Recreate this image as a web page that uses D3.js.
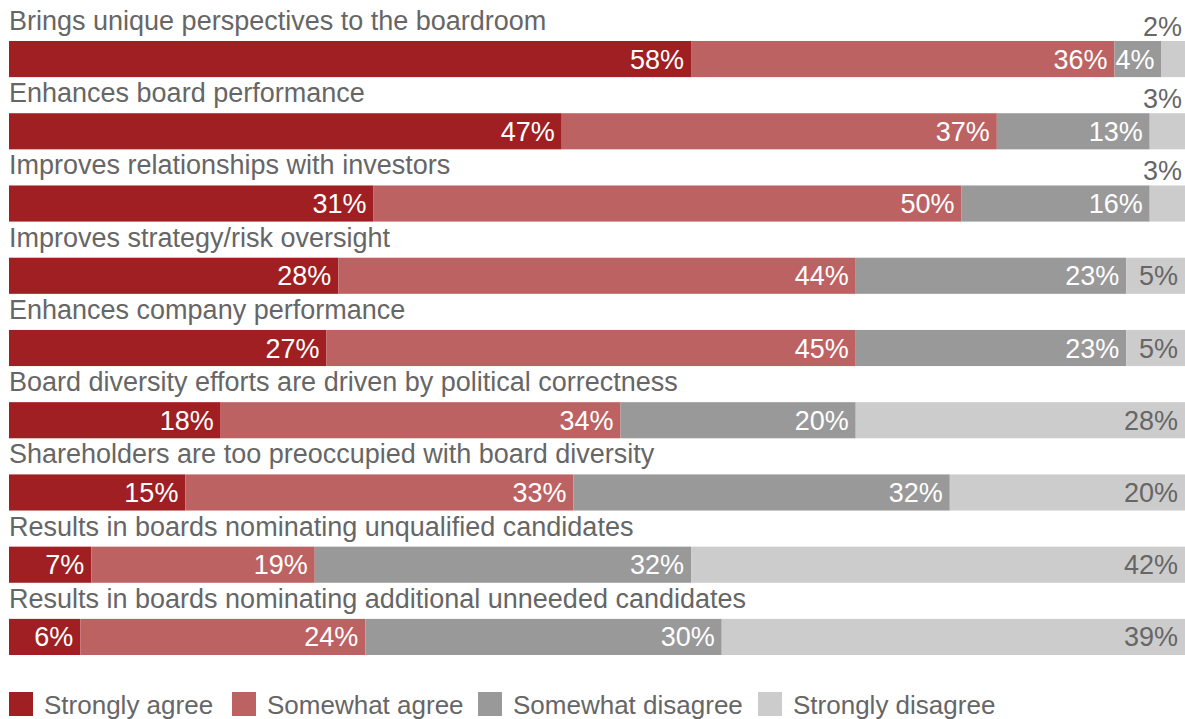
<!DOCTYPE html>
<html><head><meta charset="utf-8">
<script src="https://cdn.jsdelivr.net/npm/d3@7"></script>
<style>body{margin:0;background:#fff}svg{display:block}text{font-family:"Liberation Sans",Arial,sans-serif}</style>
</head><body>
<svg id="c" width="1185" height="719"></svg>
<script>
const categories = [
  "Brings unique perspectives to the boardroom",
  "Enhances board performance",
  "Improves relationships with investors",
  "Improves strategy/risk oversight",
  "Enhances company performance",
  "Board diversity efforts are driven by political correctness",
  "Shareholders are too preoccupied with board diversity",
  "Results in boards nominating unqualified candidates",
  "Results in boards nominating additional unneeded candidates"
];
const seriesNames = ["Strongly agree","Somewhat agree","Somewhat disagree","Strongly disagree"];
const stronglyAgree    = [58,47,31,28,27,18,15,7,6];
const somewhatAgree    = [36,37,50,44,45,34,33,19,24];
const somewhatDisagree = [4,13,16,23,23,20,32,32,30];
const stronglyDisagree = [2,3,3,5,5,28,20,42,39];
const colors = ["#a01f22","#bd6262","#999999","#cccccc"];
const labelColors = ["#ffffff","#ffffff","#ffffff","#666666"];

const rows = categories.map((c,i)=>({cat:c, vals:[stronglyAgree[i],somewhatAgree[i],somewhatDisagree[i],stronglyDisagree[i]]}));
const svg = d3.select("#c");
const y = d3.scaleBand().domain(categories).range([41,655]).paddingInner(0.5).paddingOuter(0);
const fs = 27, vfs = 27, lfs = 26;

const g = svg.selectAll("g.row").data(rows).join("g").attr("class","row");
g.append("text").attr("x",9).attr("y",d=>y(d.cat)-11).attr("fill","#666").attr("font-size",fs).text(d=>d.cat);

g.each(function(d){
  const sel = d3.select(this);
  const total = d3.sum(d.vals);
  const x = d3.scaleLinear().domain([0,total]).range([9,1185]);
  let cum = 0;
  const segs = d.vals.map((v,k)=>{const s={k,v,x0:cum,x1:cum+v};cum+=v;return s;});
  sel.selectAll("rect").data(segs).join("rect")
    .attr("x",s=>x(s.x0)).attr("y",y(d.cat)).attr("width",s=>x(s.x1)-x(s.x0)).attr("height",y.bandwidth())
    .attr("fill",s=>colors[s.k]);
  sel.selectAll("text.v").data(segs).join("text").attr("class","v")
    .attr("text-anchor","end").attr("font-size",vfs)
    .attr("x",s=> s.v<=3 ? x(total)-3 : x(s.x1)-7)
    .attr("y",s=> s.v<=3 ? y(d.cat)-5 : y(d.cat)+y.bandwidth()/2+9.5)
    .attr("fill",s=> s.v<=3 ? "#666" : labelColors[s.k])
    .text(s=>s.v+"%");
});

const leg = svg.append("g");
const legX = [9,232,478,758];
seriesNames.forEach((n,k)=>{
  leg.append("rect").attr("x",legX[k]).attr("y",692).attr("width",24).attr("height",24).attr("fill",colors[k]);
  leg.append("text").attr("x",legX[k]+35).attr("y",714).attr("fill","#666").attr("font-size",lfs).text(n);
});
</script>
</body></html>
